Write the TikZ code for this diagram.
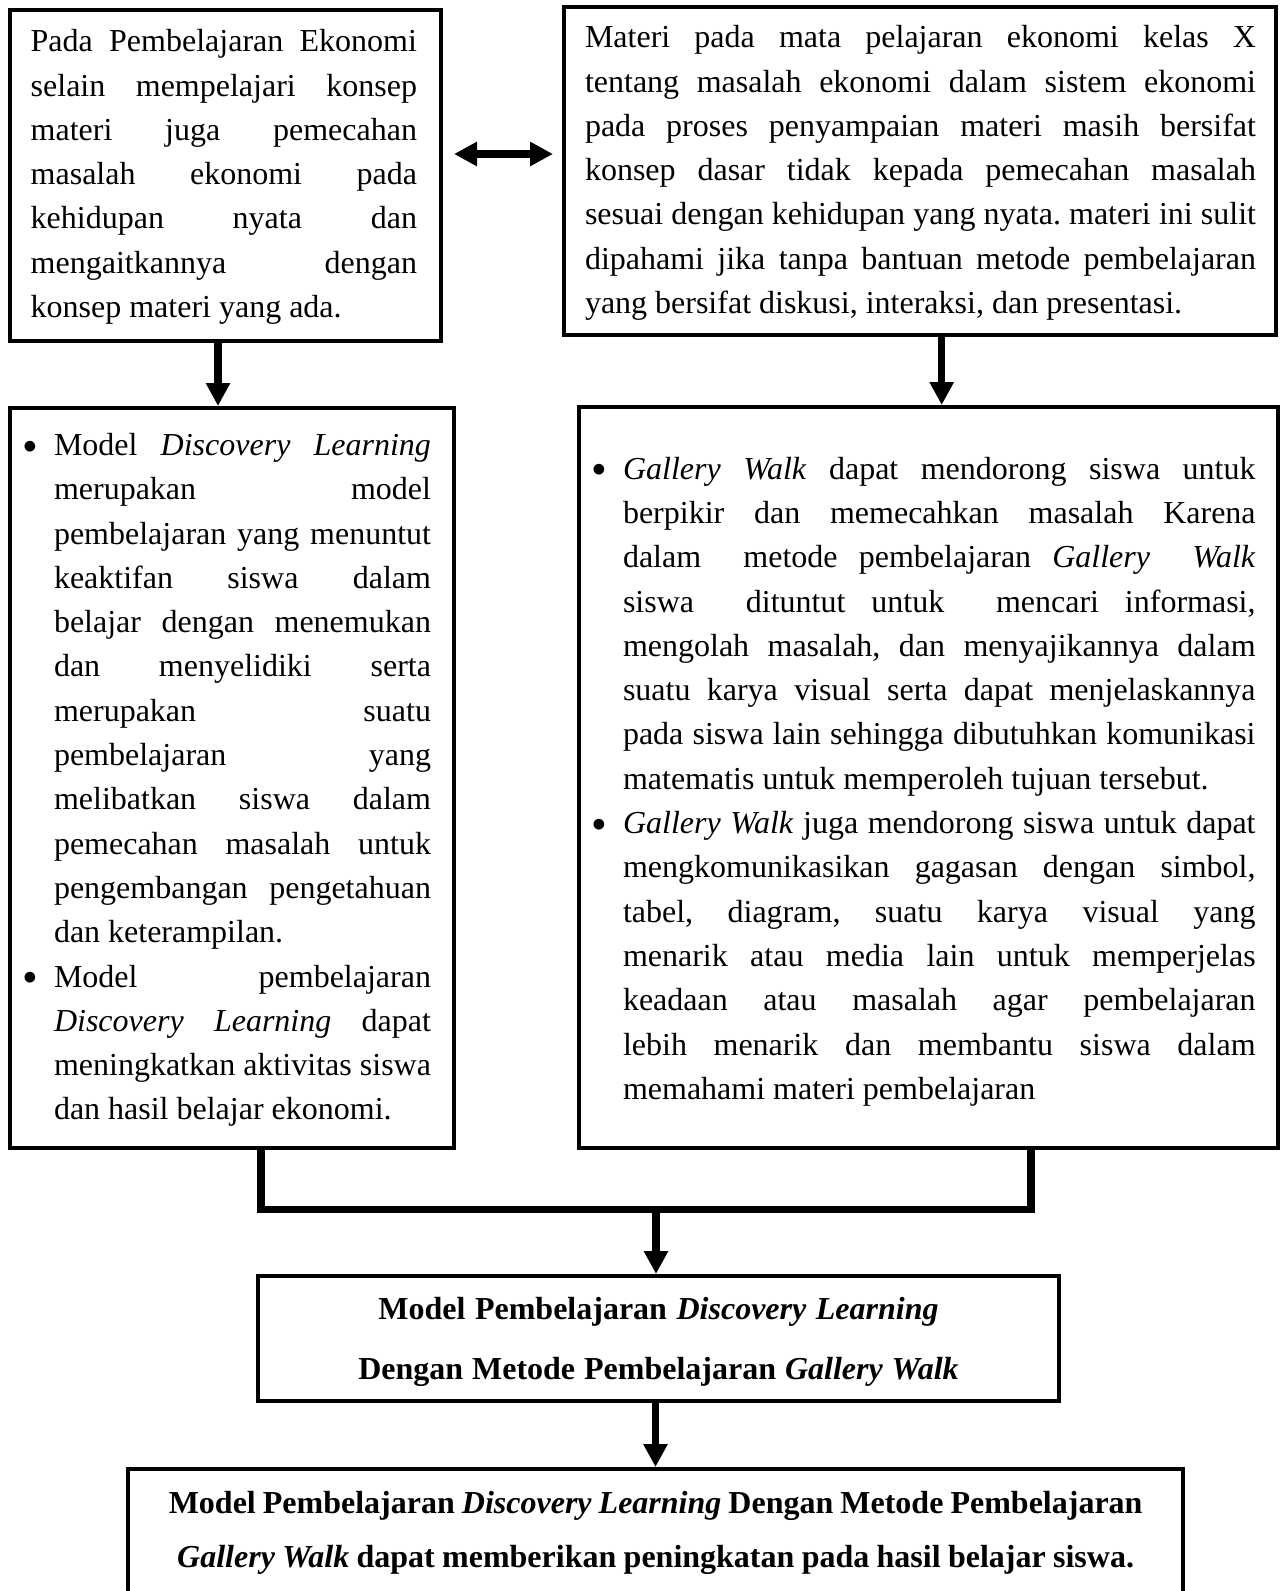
\documentclass[tikz,border=0pt]{standalone}
\usepackage{fontspec}
\setmainfont{Liberation Serif}
\usepackage{graphicx}
\usepackage{tikz}
\usetikzlibrary{arrows.meta}
\newcommand\txtbody{\fontsize{32}{44.3}\selectfont\frenchspacing}
\newcommand\boldtxt[1]{\fontsize{32}{#1}\selectfont\bfseries}
\newcommand\tight{\spaceskip=5.8pt plus 2pt minus 1pt}
\newcommand\dotmark{\raisebox{-5.7pt}{\scalebox{1.4}{•}}}
\newcommand\fitem{\hangindent=31.9pt\hangafter=1\noindent\makebox[31.9pt][l]{\dotmark}}
\newcommand\bitem{\par\fitem}
\newcommand\lift[1]{\par\kern-#1}
\tolerance=10000
\hbadness=10000
\hfuzz=3pt
\hyphenpenalty=10000

\begin{document}
\begin{tikzpicture}[x=1pt,y=-1pt,
  box/.style={draw=black,line width=4pt,inner sep=0pt,align=justify,font=\txtbody},
  boldbox/.style={draw=black,line width=4pt,inner sep=0pt,align=center},
  arr/.style={line width=7.5pt,-{Triangle[width=23pt,length=23pt]}},
  dblarr/.style={line width=7.5pt,{Triangle[width=23pt,length=23pt]}-{Triangle[width=23pt,length=23pt]}},
  merge/.style={line width=7.5pt,line join=miter}]
\useasboundingbox (0,0) rectangle (1283,1591);
\clip (0,0) rectangle (1283,1591);

\node[box,text width=431pt,minimum height=331pt] (A) at (225,175) {\leftskip=21.2pt\rightskip=23.5pt
Pada Pembelajaran Ekonomi\linebreak
selain mempelajari konsep\linebreak
materi juga pemecahan\linebreak
masalah ekonomi pada\linebreak
kehidupan nyata dan\linebreak
mengaitkannya dengan\linebreak
konsep materi yang ada.\lift{4pt}};

\node[box,text width=712pt,minimum height=328pt] (B) at (920,171) {\leftskip=21pt\rightskip=20pt
Materi pada mata pelajaran ekonomi kelas X\linebreak
tentang masalah ekonomi dalam sistem ekonomi\linebreak
pada proses penyampaian materi masih bersifat\linebreak
konsep dasar tidak kepada pemecahan masalah\linebreak
sesuai dengan kehidupan yang nyata. materi ini sulit\linebreak
dipahami jika tanpa bantuan metode pembelajaran\linebreak
yang bersifat diskusi, interaksi, dan presentasi.\lift{4pt}};

\node[box,text width=444.3pt,minimum height=740pt] (C) at (231.65,778) {\leftskip=12.6pt\rightskip=22.8pt
\fitem Model \textit{Discovery Learning}\linebreak
merupakan model\linebreak
pembelajaran yang menuntut\linebreak
keaktifan siswa dalam\linebreak
belajar dengan menemukan\linebreak
dan menyelidiki serta\linebreak
merupakan suatu\linebreak
pembelajaran yang\linebreak
melibatkan siswa dalam\linebreak
pemecahan masalah untuk\linebreak
pengembangan pengetahuan\linebreak
dan keterampilan.
\bitem Model pembelajaran\linebreak
\textit{Discovery Learning} dapat\linebreak
meningkatkan aktivitas siswa\linebreak
dan hasil belajar ekonomi.\lift{4pt}};

\node[box,text width=699pt,minimum height=741pt] (D) at (928.5,777.5) {\leftskip=12.1pt\rightskip=22.4pt
\fitem \textit{Gallery Walk} dapat mendorong siswa untuk\linebreak
berpikir dan memecahkan masalah Karena\linebreak
dalam\ \ metode pembelajaran \textit{Gallery\ \ Walk}\linebreak
siswa\ \ dituntut untuk\ \ mencari informasi,\linebreak
mengolah masalah, dan menyajikannya dalam\linebreak
suatu karya visual serta dapat menjelaskannya\linebreak
pada siswa lain sehingga dibutuhkan komunikasi\linebreak
matematis untuk memperoleh tujuan tersebut.
\bitem \textit{Gallery Walk} juga mendorong siswa untuk dapat\linebreak
mengkomunikasikan gagasan dengan simbol,\linebreak
tabel, diagram, suatu karya visual yang\linebreak
menarik atau media lain untuk memperjelas\linebreak
keadaan atau masalah agar pembelajaran\linebreak
lebih menarik dan membantu siswa dalam\linebreak
memahami materi pembelajaran\lift{8pt}};

\node[boldbox,text width=801pt,minimum height=125pt,font=\boldtxt{60}] (E) at (658.5,1338.5)
  {\tight Model Pembelajaran \textit{Discovery Learning}\\Dengan Metode Pembelajaran \textit{Gallery Walk}\lift{6pt}};

\node[boldbox,text width=1054.7pt,minimum height=124pt,font=\boldtxt{53.3}] (F) at (655.65,1531)
  {\tight Model Pembelajaran \textit{Discovery Learning} Dengan Metode Pembelajaran\\\textit{Gallery Walk} dapat memberikan peningkatan pada hasil belajar siswa.\lift{4pt}};

\coordinate (mL) at (261,1209.5);
\coordinate (mR) at (1031,1209.5);
\coordinate (m) at (656,1209.5);

\draw[dblarr,shorten <=11.5pt,shorten >=9pt] (A.east |- 0,154) -- (B.west |- 0,154);
\draw[arr] (A.south -| 218,0) -- (C.north -| 218,0);
\draw[arr] (B.south -| 941.7,0) -- (D.north -| 941.7,0);
\draw[merge] (C.south -| mL) -- (mL) -- (mR) -- (D.south -| mR);
\draw[arr] (m) -- (E.north -| m);
\draw[arr] (E.south -| 655.5,0) -- (F.north -| 655.5,0);
\end{tikzpicture}
\end{document}
